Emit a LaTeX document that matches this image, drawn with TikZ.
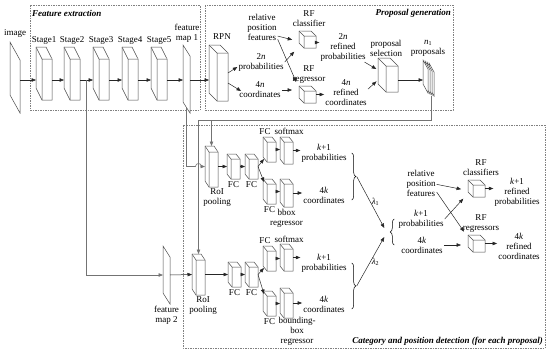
\documentclass[tikz,border=0pt]{standalone}
\usepackage{fontspec}
\setmainfont{Liberation Serif}
\usetikzlibrary{positioning,arrows.meta,calc,decorations.pathreplacing}

% box with depth: name, back top-left x y, front width, front height, depth x y
\newcommand{\cuboid}[7]{%
  \node[box, minimum width={(#4+#6)*1pt}, minimum height={(#5+#7)*1pt}, anchor=north west] (#1) at (#2,#3) {};
  \filldraw[face] (#1.north west) -- +(#4,0) -- +(#4+#6,#7) -- +(#4+#6,#5+#7) -- +(#6,#5+#7) -- +(0,#5) -- cycle;
  \draw[face] (#1.north west) -- +(#6,#7) -- +(#4+#6,#7) (#1.north west) ++(#6,#7) -- +(0,#5);
}
% slanted sheet: name, top-left x y, width, height, slant
\newcommand{\fmap}[6]{%
  \node[box, minimum width=#4pt, minimum height=#5pt, anchor=north west] (#1) at (#2,#3) {};
  \filldraw[face] (#1.north west) -- +(#4,#6) -- +(#4,#5) -- +(0,#5-#6) -- cycle;
}

\begin{document}
\begin{tikzpicture}[x=1pt,y=-1pt,>={Triangle[length=4.5pt,width=3.5pt]},
   font=\fontsize{9}{10}\selectfont,
   box/.style={inner sep=0pt,outer sep=0pt},
   face/.style={draw=black!70,fill=white,line width=0.5pt},
   lbl/.style={align=center,inner sep=1pt},
   arr/.style={->,draw=black!85,line width=0.5pt},
   conn/.style={->,draw=black!55,line width=0.6pt},
   frame/.style={draw=black!50,dash pattern=on 1.5pt off 1pt,line width=0.5pt},
   title/.style={inner sep=1pt,font=\fontsize{9}{11}\selectfont\bfseries\itshape},
   brc/.style={decorate,decoration={brace,amplitude=4pt},line width=0.5pt}]
  \useasboundingbox (0,0) rectangle (550,354);
  \coordinate (row) at (0,80);
  \coordinate (bus) at (0,120);

  \draw[frame] (30,5) rectangle (200,110);
  \draw[frame] (205,5) rectangle (453,110);
  \draw[frame] (183,125) rectangle (545,348);
  \node[title,anchor=west] (tfe) at (31,13) {Feature extraction};
  \node[title,anchor=east] (tpg) at (452,13) {Proposal generation};
  \node[title,anchor=east] (tcp) at (544,341) {Category and position detection (for each proposal)};

  % backbone
  \fmap{img}{10}{42}{10}{71}{18}
  \node[lbl] (limg) at (15,33) {image};
  \foreach \i/\x in {1/36,2/64,3/93,4/122,5/151} {
    \cuboid{s\i}{\x}{47}{10}{41}{6}{12}
    \node[lbl] (ls\i) at (\x+8,40) {Stage\i};
  }
  \fmap{fm1}{183}{45}{7}{68}{11}
  \node[lbl] (lfm1) at (187,33) {feature\\map 1};

  % proposal generation
  \cuboid{rpn}{209}{45}{11}{48}{8}{8}
  \node[lbl] (lrpn) at (222,37) {RPN};
  \draw[arr] (img.east |- row) -- (s1.west |- row);
  \foreach \a/\b in {s1/s2,s2/s3,s3/s4,s4/s5,s5/fm1,fm1/rpn} \draw[arr] (\a.east |- row) -- (\b.west |- row);
  \node[lbl] (p2n) at (261,62) {2\textit{n}\\probabilities};
  \node[lbl] (c4n) at (260,90) {4\textit{n}\\coordinates};
  \node[lbl] (rpf) at (262,27) {relative\\position\\features};
  \node[lbl] (lrfc) at (309,19) {RF\\classifier};
  \cuboid{rfc}{299}{31}{12}{12}{5}{5}
  \node[lbl] (lrfr) at (309,75) {RF\\regressor};
  \cuboid{rfr}{299}{86}{12}{12}{5}{5}
  \node[lbl] (r2n) at (343,47) {2\textit{n}\\refined\\probabilities};
  \node[lbl] (r4n) at (346,93) {4\textit{n}\\refined\\coordinates};
  \node[lbl] (lps) at (386,48) {proposal\\selection};
  \cuboid{ps}{378}{58}{12}{26}{8}{8}
  \foreach \i in {3,2,1,0} {\fmap{p\i}{423+2*\i}{60+\i}{5}{33}{9}}
  \node[lbl] (lprop) at (428,48) {\textit{n}\textsubscript{1}\\proposals};

  \draw[arr] (rpn.east) -- ([yshift=-5pt]p2n.west);
  \draw[arr] ([yshift=-10pt]rpn.east) -- ([xshift=3pt,yshift=-1pt]c4n.west);
  \draw[arr,shorten >=7pt] (rpf.-30) -- ([yshift=-2pt]rfc.west);
  \draw[arr,shorten >=7pt] (rpf.-38) -- ([yshift=6pt]rfr.west);
  \draw[arr,shorten >=7pt] (p2n.east) -- ([yshift=-7pt]rfc.west);
  \draw[arr,shorten >=7pt] (c4n.east) -- (c4n.east -| rfr.west);
  \draw[arr] ([yshift=-3pt]rfc.east) -- ([yshift=-3pt]rfc.east -| r2n.west);
  \draw[arr] (rfr.east) -- (rfr.east -| r4n.west);
  \draw[arr,shorten >=2pt] (r2n.-35) -- ([yshift=5pt]ps.west);
  \draw[arr,shorten >=2pt] (r4n.10) -- ([yshift=-5pt]ps.west);
  \draw[arr] (ps.east |- row) -- (p0.west |- row);

  % detection, first branch
  \cuboid{roi1}{205}{146}{9}{35}{4}{6}
  \node[lbl] (lroi1) at (217,198) {RoI\\pooling};
  \cuboid{fc1a}{227}{154}{9}{20}{4}{5}
  \cuboid{fc2a}{245}{154}{9}{20}{4}{5}
  \cuboid{fc3a}{263}{137}{9}{20}{4}{5}
  \cuboid{sm1}{280}{137}{9}{22}{4}{5}
  \cuboid{fc4a}{263}{179}{9}{20}{4}{5}
  \cuboid{bb1}{280}{179}{9}{23}{4}{5}
  \node[lbl,below=1pt of fc1a] (lfc1a) {FC};
  \node[lbl,below=1pt of fc2a] (lfc2a) {FC};
  \node[lbl] (lfc3a) at (265,132) {FC};
  \node[lbl] (lsm1) at (289,131) {softmax};
  \node[lbl,below=1pt of fc4a] (lfc4a) {FC};
  \node[lbl,below=1pt of bb1] (lbb1) {bbox\\regressor};
  \node[lbl] (pk1) at (324,153) {\textit{k}+1\\probabilities};
  \node[lbl] (ck1) at (324,195) {4\textit{k}\\coordinates};
  \draw[arr] (roi1.east) -- (fc1a.west);
  \draw[arr] (fc1a.east) -- (fc2a.west);
  \draw[arr] (fc2a.east) -- ($(fc3a.south west)+(1,-3)$);
  \draw[arr] (fc2a.east) -- ($(fc4a.north west)+(1,3)$);
  \draw[arr] (fc3a.east) -- (fc3a.east -| sm1.west);
  \draw[arr] (fc4a.east) -- (fc4a.east -| bb1.west);
  \draw[arr] (sm1.east) -- (sm1.east -| pk1.west);
  \draw[arr] (bb1.east) -- (bb1.east -| ck1.west);
  \coordinate (b1t) at ($(pk1.east)+(4,0)$);
  \coordinate (b1b) at ($(pk1.east |- ck1.east)+(4,5)$);
  \draw[brc] (b1t) -- (b1b);
  \coordinate (br1) at ($(b1t)!.5!(b1b)+(5,0)$);

  % detection, second branch
  \fmap{fm2}{163}{246}{7}{58}{11}
  \node[lbl,below=1pt of fm2] (lfm2) {feature\\map 2};
  \cuboid{roi2}{192}{254}{9}{35}{4}{6}
  \node[lbl] (lroi2) at (203,306) {RoI\\pooling};
  \cuboid{fc1b}{228}{262}{9}{20}{4}{5}
  \cuboid{fc2b}{245}{262}{9}{20}{4}{5}
  \cuboid{fc3b}{263}{246}{9}{20}{4}{5}
  \cuboid{sm2}{280}{244}{9}{22}{4}{5}
  \cuboid{fc4b}{263}{291}{9}{20}{4}{5}
  \cuboid{bb2}{280}{288}{9}{25}{4}{5}
  \node[lbl,below=1pt of fc1b] (lfc1b) {FC};
  \node[lbl,below=1pt of fc2b] (lfc2b) {FC};
  \node[lbl] (lfc3b) at (265,241) {FC};
  \node[lbl] (lsm2) at (289,239) {softmax};
  \node[lbl,below=1pt of fc4b] (lfc4b) {FC};
  \node[lbl] (lbb2) at (297,331) {bounding-\\box\\regressor};
  \node[lbl] (pk2) at (324,263) {\textit{k}+1\\probabilities};
  \node[lbl] (ck2) at (324,304) {4\textit{k}\\coordinates};
  \draw[arr] (fm2.east) -- (roi2.west);
  \draw[arr] (roi2.east) -- (fc1b.west);
  \draw[arr] (fc1b.east) -- (fc2b.west);
  \draw[arr] (fc2b.east) -- ($(fc3b.south west)+(1,-3)$);
  \draw[arr] (fc2b.east) -- ($(fc4b.north west)+(1,3)$);
  \draw[arr] (fc3b.east) -- (fc3b.east -| sm2.west);
  \draw[arr] (fc4b.east) -- (fc4b.east -| bb2.west);
  \draw[arr] (sm2.east) -- (sm2.east -| pk2.west);
  \draw[arr] (bb2.east) -- (bb2.east -| ck2.west);
  \coordinate (b2t) at ($(pk2.east)+(4,0)$);
  \coordinate (b2b) at ($(pk2.east |- ck2.east)+(4,5)$);
  \draw[brc] (b2t) -- (b2b);
  \coordinate (br2) at ($(b2t)!.5!(b2b)+(5,0)$);

  % feature maps and proposals into RoI pooling
  \coordinate (tap) at ($(s2.east |- row)!.5!(s3.west |- row)$);
  \draw[conn] (tap) |- (fm2.west);
  \draw[conn] (p3.south) |- (roi2.north |- bus) -- (roi2.north);
  \draw[conn] (roi1.north |- bus) -- (roi1.north);
  \draw[conn] ($(fm1.south)+(0,-6)$) -- (fm1.south |- roi1.west)
    -- ($(roi2.north |- roi1.west)+(-3,0)$) .. controls +(0,-4) and +(0,-4) .. ($(roi2.north |- roi1.west)+(3,0)$)
    -- (roi1.west);

  % fusion
  \node[lbl] (rpf2) at (421,183) {relative\\position\\features};
  \node[lbl] (mk1) at (421,219) {\textit{k}+1\\probabilities};
  \node[lbl] (mc) at (422,245) {4\textit{k}\\coordinates};
  \coordinate (mbt) at ($(mk1.west)+(-3,0)$);
  \coordinate (mbb) at ($(mk1.west |- mc.west)+(-3,0)$);
  \draw[brc] (mbb) -- (mbt);
  \coordinate (mb) at ($(mbt)!.5!(mbb)+(-5,0)$);
  \draw[arr] (br1) -- node[lbl,right,pos=.5] {\textit{λ}\textsubscript{1}} ($(mb)+(-5,-4)$);
  \draw[arr] (br2) -- node[lbl,right,pos=.5] {\textit{λ}\textsubscript{2}} ($(mb)+(-5,5)$);
  \node[lbl] (lrfcs) at (481,168) {RF\\classifiers};
  \cuboid{rfcs}{468}{180}{12}{12}{5}{5}
  \node[lbl] (rk1) at (517,192) {\textit{k}+1\\refined\\probabilities};
  \node[lbl] (lrfrs) at (481,224) {RF\\regressors};
  \cuboid{rfrs}{468}{235}{12}{12}{5}{5}
  \node[lbl] (rc4) at (519,246) {4\textit{k}\\refined\\coordinates};
  \draw[arr,shorten >=7pt] (rpf2.-5) -- ([yshift=-2pt]rfcs.west);
  \draw[arr,shorten >=7pt] (rpf2.-30) -- ([yshift=6pt]rfrs.west);
  \draw[arr,shorten >=7pt] (mk1.east) -- ([yshift=-5pt]rfcs.west);
  \draw[arr,shorten >=7pt] (mc.east) -- (mc.east -| rfrs.west);
  \draw[arr] (rfcs.east) -- (rfcs.east -| rk1.west);
  \draw[arr] (rfrs.east) -- (rfrs.east -| rc4.west);
\end{tikzpicture}
\end{document}
